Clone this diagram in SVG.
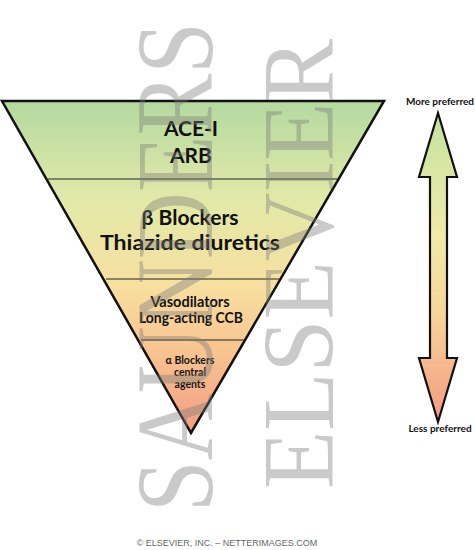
<svg xmlns="http://www.w3.org/2000/svg" width="475" height="550" viewBox="0 0 475 550">
<style>
.lbl{font-family:Lato,"Open Sans",sans-serif;font-weight:bold;fill:#111;text-anchor:middle}
.small{font-family:Lato,"Open Sans",sans-serif;font-weight:bold;fill:#111;font-size:10px;text-anchor:middle}
.wm{font-family:"Liberation Serif",serif;fill:#7a7a7a;fill-opacity:0.4}
.div{stroke:#222;stroke-width:1.2}
</style>
<defs>
<linearGradient id="tri" x1="0" y1="100" x2="0" y2="435" gradientUnits="userSpaceOnUse">
<stop offset="0" stop-color="#b4d9a0"/>
<stop offset="0.3" stop-color="#e2e9a8"/>
<stop offset="0.55" stop-color="#f7e0a0"/>
<stop offset="0.75" stop-color="#f8c490"/>
<stop offset="1" stop-color="#f29c80"/>
</linearGradient>
<linearGradient id="arr" x1="0" y1="113" x2="0" y2="422" gradientUnits="userSpaceOnUse">
<stop offset="0" stop-color="#c6e2a0"/>
<stop offset="0.4" stop-color="#f0eaa8"/>
<stop offset="0.65" stop-color="#f8d49a"/>
<stop offset="1" stop-color="#f49a80"/>
</linearGradient>
</defs>
<rect width="475" height="550" fill="#fff"/>
<g id="pyramid">
<polygon points="2,101 384,101 191,433" fill="url(#tri)" stroke="#111" stroke-width="2.5" stroke-linejoin="miter"/>
<line class="div" x1="48" y1="179" x2="338" y2="179"/>
<line class="div" x1="106" y1="279" x2="280" y2="279"/>
<line class="div" x1="141" y1="340" x2="245" y2="340"/>
</g>
<g id="tier1">
<text class="lbl" x="191" y="136" font-size="21">ACE-I</text>
<text class="lbl" x="191" y="163" font-size="21">ARB</text>
</g>
<g id="tier2">
<text class="lbl" x="190" y="225" font-size="21">β Blockers</text>
<text class="lbl" x="190" y="250" font-size="21" textLength="180" lengthAdjust="spacingAndGlyphs">Thiazide diuretics</text>
</g>
<g id="tier3">
<text class="lbl" x="190" y="307" font-size="14.5">Vasodilators</text>
<text class="lbl" x="191" y="323" font-size="14.5" textLength="104" lengthAdjust="spacingAndGlyphs">Long-acting CCB</text>
</g>
<g id="tier4">
<text class="lbl" x="190" y="364" font-size="10.5" fill="#2a1a10">α Blockers</text>
<text class="lbl" x="190" y="376" font-size="10.5" fill="#2a1a10">central</text>
<text class="lbl" x="190" y="387.5" font-size="10.5" fill="#2a1a10">agents</text>
</g>
<g id="connectors">
<polygon points="438,113 457,177 447,177 447,358 457,358 438,422 419,358 430,358 430,177 419,177" fill="url(#arr)" stroke="#111" stroke-width="2.2" stroke-linejoin="miter"/>
</g>
<g id="scale-labels">
<text class="small" x="440" y="105">More preferred</text>
<text class="small" x="440" y="432">Less preferred</text>
</g>
<g id="watermark">
<text class="wm" font-size="110" transform="translate(212,512) rotate(-90)" textLength="490" lengthAdjust="spacingAndGlyphs">SAUNDERS</text>
<text class="wm" font-size="102" transform="translate(333,489) rotate(-90)" textLength="450" lengthAdjust="spacingAndGlyphs">ELSEVIER</text>
</g>
<text x="227" y="546" font-family="Liberation Sans,Arial,sans-serif" font-size="9" fill="#666" text-anchor="middle">© ELSEVIER, INC. – NETTERIMAGES.COM</text>
</svg>
